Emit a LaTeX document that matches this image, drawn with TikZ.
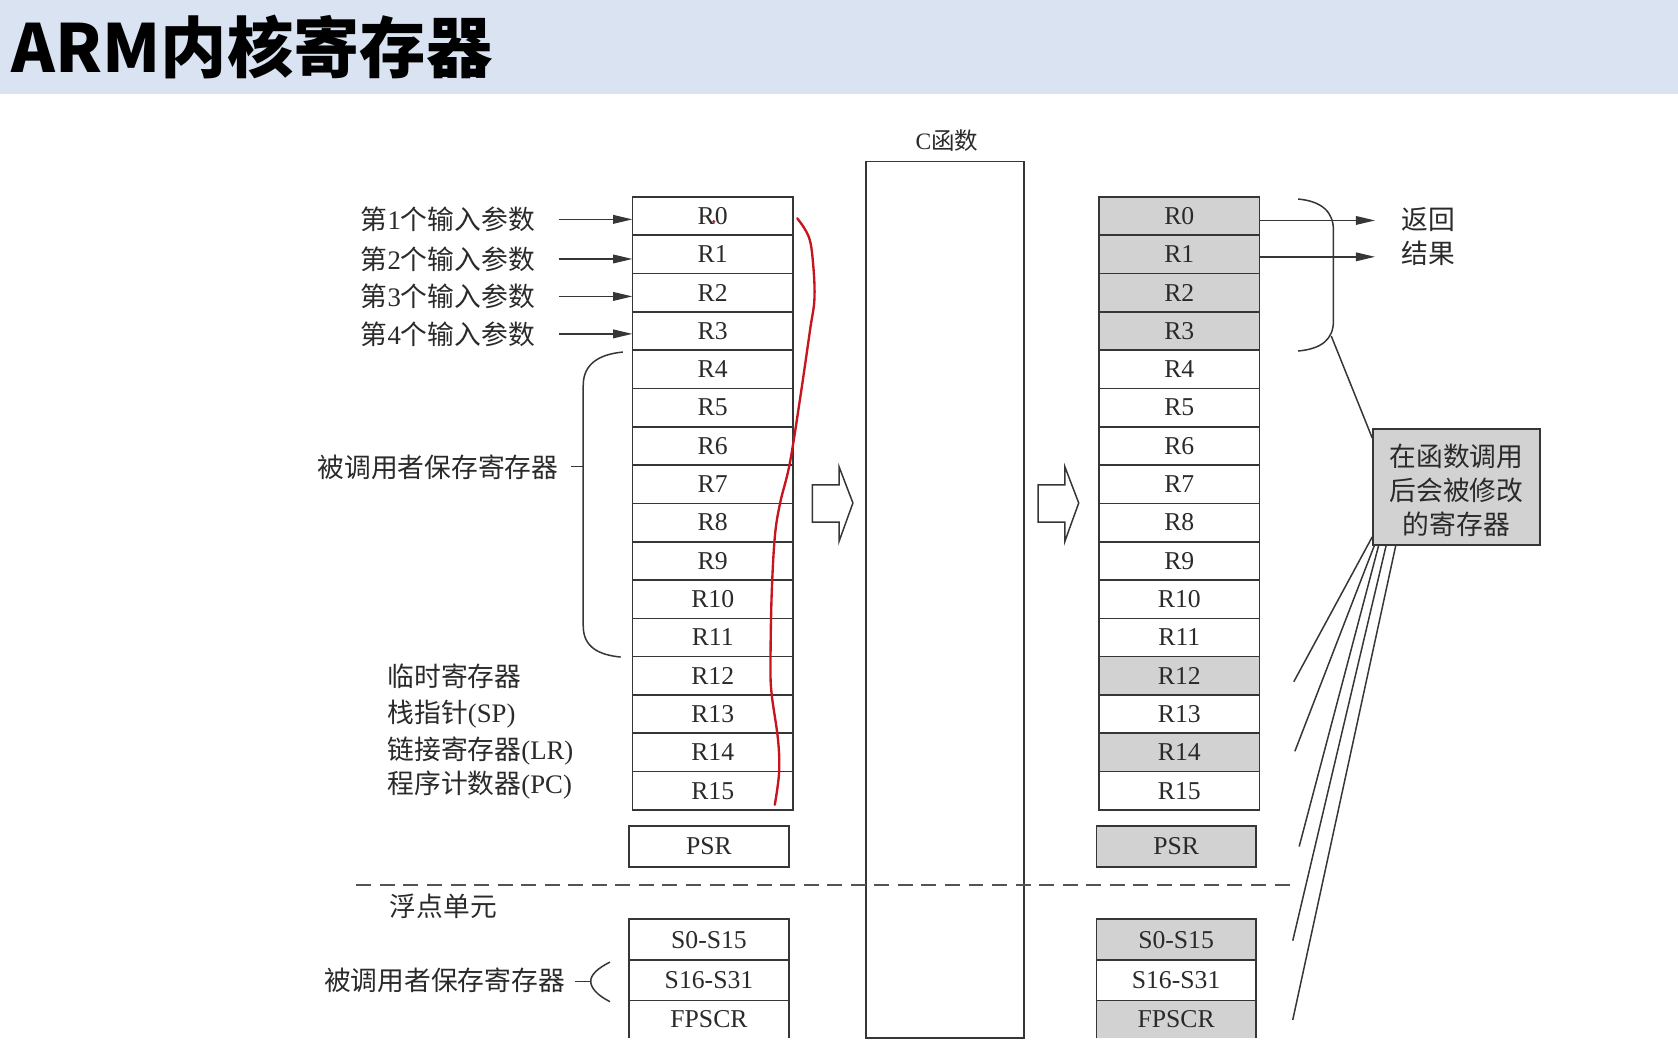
\documentclass[tikz,border=0pt]{standalone}
\usepackage{fontspec}
\setmainfont{Liberation Serif}
\newfontfamily\cjk{Noto Sans CJK SC}
\newcommand\zh[1]{{\cjk #1}}
\usetikzlibrary{arrows.meta}
\definecolor{titlebg}{HTML}{DAE3F1}
\definecolor{ink}{HTML}{2A2A2A}
\definecolor{lineink}{HTML}{363636}
\definecolor{shade}{HTML}{D2D2D2}
\definecolor{redpen}{HTML}{C8141E}
\begin{document}
\begin{tikzpicture}[x=1pt,y=-1pt,
  reg/.style={draw=lineink, line width=1.5pt, minimum width=150pt, minimum height=35.8pt,
    inner sep=0pt, outer sep=0pt, text=ink, font=\fontsize{24}{26}\selectfont},
  regs/.style={reg, minimum width=149pt, minimum height=38pt},
  gray/.style={fill=shade},
  lab/.style={text=ink, inner sep=0pt, font=\fontsize{25}{31}\selectfont},
  arr/.style={draw=lineink, line width=1.5pt, -{Triangle[length=18pt,width=8pt]}},
  thin/.style={draw=lineink, line width=1.4pt}
]
\useasboundingbox (0,0) rectangle (1568,981);
% title band
\fill[titlebg] (0,0) rectangle (1568,88);
\node[anchor=west, inner sep=0pt, font=\cjk\bfseries\fontsize{62}{66}\selectfont] (title) at (11,44) {ARM内核寄存器};

% left register column
\foreach \i in {0,...,15}{
  \node[reg] (L\i) at (666,{184+35.8*\i+17.9}) {R\i};
}
\node[regs] (Lpsr) at (662.5,791) {PSR};
\node[regs] (Ls0) at (662.5,878) {S0-S15};
\node[regs] (Ls16) at (662.5,916) {S16-S31};
\node[reg, draw=none, minimum width=149pt, minimum height=35pt] (Lfp) at (662.5,952.5) {FPSCR};
\draw[thin, line width=1.5pt] (Lfp.south west) -- (Lfp.north west) -- (Lfp.north east) -- (Lfp.south east);

% right register column
\foreach \i in {0,...,15}{
  \node[reg] (Q\i) at (1102,{184+35.8*\i+17.9}) {};
}
\foreach \i in {0,1,2,3,12,14}{
  \node[reg, gray] at (Q\i) {};
}
\foreach \i in {0,...,15}{
  \node[text=ink, font=\fontsize{24}{26}\selectfont] at (Q\i) {R\i};
}
\node[regs, gray] (Qpsr) at (1099,791) {PSR};
\node[regs, gray] (Qs0) at (1099,878) {S0-S15};
\node[regs] (Qs16) at (1099,916) {S16-S31};
\node[reg, gray, draw=none, minimum width=149pt, minimum height=35pt] (Qfp) at (1099,952.5) {FPSCR};
\draw[thin, line width=1.5pt] (Qfp.south west) -- (Qfp.north west) -- (Qfp.north east) -- (Qfp.south east);

% C function box
\node[draw=lineink, line width=1.5pt, minimum width=148pt, minimum height=819pt, inner sep=0pt] (cfun) at (883,560.5) {};
\node[text=ink, font=\fontsize{22}{24}\selectfont] (clab) at (885,131) {C\zh{函数}};

% hollow arrows
\draw[thin, line join=miter] (759,453) -- (784,453) -- (784,436) -- (797,470) -- (784,506) -- (784,488) -- (759,488) -- cycle;
\draw[thin, line join=miter] (970,453) -- (995,453) -- (995,436) -- (1008,470) -- (995,506) -- (995,488) -- (970,488) -- cycle;

% input parameter labels
\node[lab, anchor=west] (in1) at (337,205) {\zh{第}1\zh{个输入参数}};
\node[lab, anchor=west] (in2) at (337,242) {\zh{第}2\zh{个输入参数}};
\node[lab, anchor=west] (in3) at (337,277) {\zh{第}3\zh{个输入参数}};
\node[lab, anchor=west] (in4) at (337,312) {\zh{第}4\zh{个输入参数}};
\draw[arr] (522,205) -- (in1 -| L0.west);
\draw[arr] (522,242) -- (in2 -| L1.west);
\draw[arr] (522,277) -- (in3 -| L2.west);
\draw[arr] (522,312) -- (in4 -| L3.west);

% callee-saved brace (integer)
\node[lab, anchor=east] (callee) at (522,437) {\zh{被调用者保存寄存器}};
\draw[thin] (582,329) .. controls (560,331) and (545,340) .. (545,360) -- (545,585) .. controls (545,605) and (560,612) .. (580,614);
\draw[thin] (534,436) -- (545,436);

% other labels
\node[lab, anchor=west] (tmp) at (362,632) {\zh{临时寄存器}};
\node[lab, anchor=west] (sp) at (362,667) {\zh{栈指针}(SP)};
\node[lab, anchor=west] (lr) at (362,702) {\zh{链接寄存器}(LR)};
\node[lab, anchor=west] (pc) at (362,734) {\zh{程序计数器}(PC)};

% dashed separator
\draw[draw=lineink!85, line width=1.5pt, dash pattern=on 14pt off 8pt] (333,827) -- (1212,827);
\node[lab, anchor=west] (fpu) at (364,847) {\zh{浮点单元}};

% callee-saved brace (FPU)
\node[lab, anchor=east] (callee2) at (528,916) {\zh{被调用者保存寄存器}};
\draw[thin] (570,899) .. controls (558,905) and (552,911) .. (552,917) .. controls (552,923) and (558,930) .. (570,936);
\draw[thin] (537,917) -- (552,917);

% return result
\node[lab, align=center] (ret) at (1335,221) {\zh{返回}\\\zh{结果}};
\coordinate (r0end) at (1285,206);
\coordinate (r1end) at (1285,240);
\draw[arr] (Q0.east |- r0end) -- (r0end);
\draw[arr] (Q1.east |- r1end) -- (r1end);

% right brace
\draw[thin] (1213,186) .. controls (1235,188) and (1246,198) .. (1246,215) -- (1246,300) .. controls (1246,317) and (1235,326) .. (1213,328);
\coordinate (btip) at (1244,314);

% note box
\node[draw=lineink, line width=1.5pt, fill=shade, minimum width=156pt, minimum height=108pt] (note) at (1361,455) {};
\node[align=center, text=ink, font=\cjk\fontsize{25}{31.5}\selectfont] (notetext) at (1361,458) {在函数调用\\后会被修改\\的寄存器};
\draw[thin] (btip) -- ([yshift=-9pt]note.north west);

% fan lines
\coordinate (f1) at (1209,637);
\coordinate (f2) at (1210,702);
\coordinate (f3) at (1214,791);
\coordinate (f4) at (1208,879);
\coordinate (f5) at (1208,953);
\draw[thin] ([yshift=8pt]note.south west) -- (f1);
\draw[thin] ([xshift=2pt]note.south west) -- (f2);
\draw[thin] ([xshift=6pt]note.south west) -- (f3);
\draw[thin] ([xshift=13pt]note.south west) -- (f4);
\draw[thin] ([xshift=22pt]note.south west) -- (f5);

% red pen annotation
\draw[redpen, line width=2.2pt, line cap=round] plot[smooth, tension=0.6] coordinates {
  (745,204) (756,222) (760,249) (761,280) (757,308) (748,370) (738,433) (729,470)
  (724,502) (721,558) (720,620) (721,648) (727,691) (728,722) (724,752)};
\fill[redpen] (667,207) circle (1.6pt);
\end{tikzpicture}
\end{document}
